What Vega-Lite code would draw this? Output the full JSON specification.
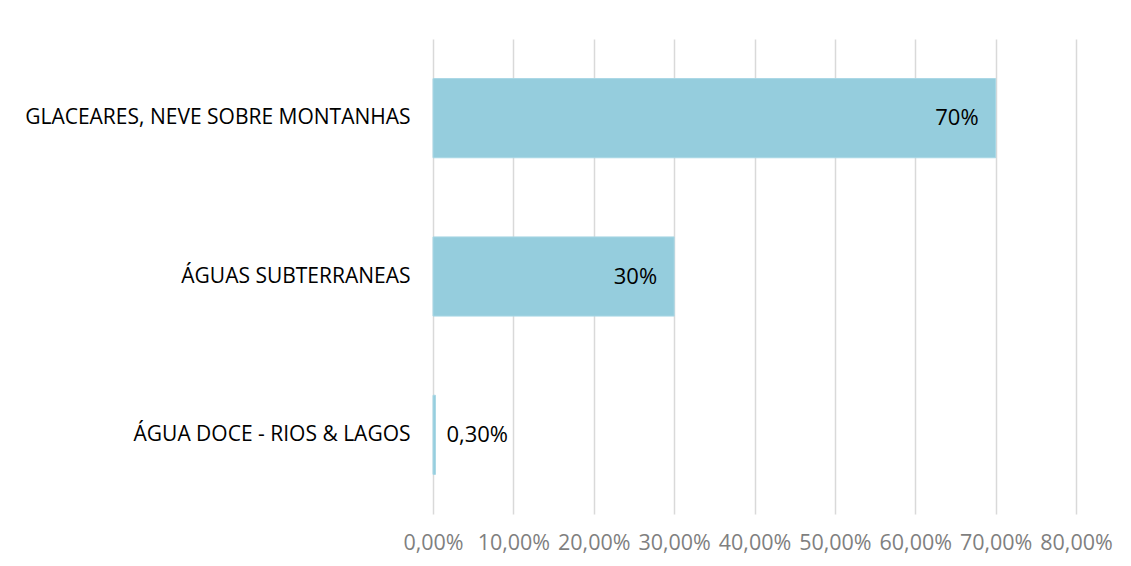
{
  "$schema": "https://vega.github.io/schema/vega-lite/v6.json",
  "autosize": {"type": "none"},
  "padding": {"left": 433, "top": 39, "right": 55, "bottom": 52},
  "width": 643,
  "height": 475,
  "background": "white",
  "config": {
    "locale": {"number": {"decimal": ",", "thousands": ".", "grouping": [3], "currency": ["", " €"]}},
    "view": {"stroke": null},
    "font": "Open Sans"
  },
  "data": {
    "values": [
      {"categoria": "GLACEARES, NEVE SOBRE MONTANHAS", "valor": 0.70, "rotulo": "70%"},
      {"categoria": "ÁGUAS SUBTERRANEAS", "valor": 0.30, "rotulo": "30%"},
      {"categoria": "ÁGUA DOCE - RIOS & LAGOS", "valor": 0.003, "rotulo": "0,30%"}
    ]
  },
  "encoding": {
    "y": {
      "field": "categoria", "type": "nominal", "sort": null,
      "scale": {"paddingInner": 0.5, "paddingOuter": 0.25},
      "axis": {"title": null, "ticks": false, "domain": false, "grid": false, "labelPadding": 23, "labelLimit": 0, "labelFontSize": 21, "labelColor": "#000000", "labelFont": "Open Sans"}
    },
    "x": {
      "field": "valor", "type": "quantitative",
      "scale": {"domain": [0, 0.8], "nice": false},
      "axis": {"title": null, "format": ".2%", "values": [0, 0.1, 0.2, 0.3, 0.4, 0.5, 0.6, 0.7, 0.8], "ticks": false, "domain": false, "grid": true, "gridColor": "#d9d9d9", "gridWidth": 1.5, "labelPadding": 18, "labelFontSize": 21.5, "labelColor": "#7f7f7f", "labelFont": "Open Sans", "labelOverlap": false, "labelFlush": false, "labelBound": false}
    }
  },
  "layer": [
    {"mark": {"type": "bar", "fill": "#95cddd", "stroke": "#a9d7e5", "strokeWidth": 1}},
    {
      "transform": [{"filter": "datum.valor > 0.1"}],
      "mark": {"type": "text", "align": "right", "baseline": "middle", "dx": -17, "fontSize": 22, "color": "#000000"},
      "encoding": {"text": {"field": "rotulo"}}
    },
    {
      "transform": [{"filter": "datum.valor <= 0.1"}],
      "mark": {"type": "text", "align": "left", "baseline": "middle", "dx": 11, "fontSize": 22, "color": "#000000"},
      "encoding": {"text": {"field": "rotulo"}}
    }
  ]
}
